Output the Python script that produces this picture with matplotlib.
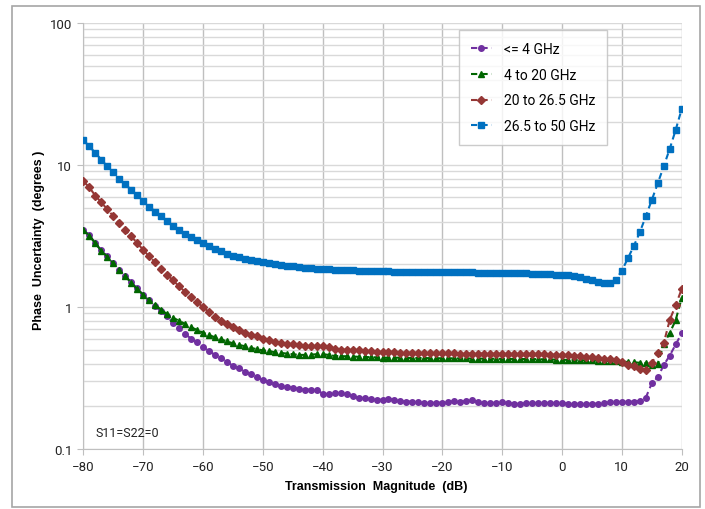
import numpy as np
import matplotlib.pyplot as plt
from matplotlib.patches import Rectangle
from matplotlib.ticker import FixedLocator, LogLocator, NullFormatter, FuncFormatter

DPI = 100

# Transmission magnitude, 1 dB steps.
magnitude = list(range(-80, 21))

# Phase uncertainty (degrees).
phase_4ghz = [
    3.50, 3.20, 2.83, 2.50, 2.27, 2.04, 1.83, 1.66, 1.49, 1.35,
    1.22, 1.12, 1.02, 0.93, 0.86, 0.77, 0.71, 0.645, 0.60, 0.565,
    0.52, 0.49, 0.46, 0.435, 0.41,
    0.386, 0.37, 0.35, 0.335, 0.32, 0.305, 0.295, 0.287, 0.28, 0.275,
    0.27, 0.265, 0.262, 0.262, 0.262, 0.245, 0.243, 0.248, 0.248, 0.243,
    0.235, 0.23, 0.227, 0.224, 0.223, 0.222,
    0.224, 0.223, 0.218, 0.216, 0.216, 0.213, 0.21, 0.21, 0.212, 0.212,
    0.214, 0.218, 0.215, 0.218, 0.22, 0.213, 0.21, 0.21, 0.212, 0.213,
    0.21, 0.209, 0.209, 0.21, 0.21, 0.211, 0.211, 0.211, 0.21, 0.21,
    0.209, 0.208, 0.208, 0.208, 0.208, 0.209, 0.211, 0.213, 0.214, 0.215,
    0.215, 0.216, 0.218, 0.23, 0.29, 0.32, 0.39, 0.455, 0.545, 0.653,
]
phase_20ghz = [
    3.48, 3.18, 2.81, 2.49, 2.26, 2.03, 1.82, 1.65, 1.48, 1.34,
    1.22, 1.12, 1.03, 0.96, 0.89, 0.84, 0.80, 0.76, 0.72, 0.69,
    0.66, 0.635, 0.612, 0.592, 0.573,
    0.555, 0.54, 0.53, 0.515, 0.505, 0.495, 0.49, 0.48, 0.475, 0.47,
    0.465, 0.46, 0.46, 0.462, 0.465, 0.465, 0.46, 0.452, 0.45, 0.45,
    0.448, 0.446, 0.445, 0.443, 0.442, 0.44,
    0.44, 0.44, 0.439, 0.438, 0.438, 0.437, 0.437, 0.436, 0.436, 0.435,
    0.435, 0.435, 0.434, 0.434, 0.433, 0.433, 0.433, 0.432, 0.432, 0.431,
    0.431, 0.431, 0.43, 0.43, 0.43, 0.429, 0.428, 0.427, 0.426, 0.425,
    0.424, 0.423, 0.422, 0.421, 0.42, 0.419, 0.418, 0.416, 0.414, 0.412,
    0.41, 0.408, 0.405, 0.403, 0.39, 0.40, 0.55, 0.656, 0.81, 1.16,
]
phase_26ghz = [
    7.68, 6.97, 6.08, 5.46, 4.88, 4.37, 3.88, 3.48, 3.15, 2.82,
    2.53, 2.27, 2.07, 1.86, 1.69, 1.54, 1.40, 1.28, 1.18, 1.08,
    1.00, 0.92, 0.855, 0.80, 0.755,
    0.72, 0.69, 0.66, 0.64, 0.62, 0.60, 0.585, 0.57, 0.56, 0.55,
    0.545, 0.54, 0.535, 0.53, 0.53, 0.53, 0.52, 0.51, 0.50, 0.50,
    0.50, 0.495, 0.49, 0.49, 0.485, 0.485,
    0.48, 0.48, 0.478, 0.478, 0.475, 0.475, 0.475, 0.473, 0.473, 0.472,
    0.472, 0.472, 0.47, 0.47, 0.47, 0.47, 0.47, 0.468, 0.468, 0.467,
    0.467, 0.466, 0.466, 0.465, 0.465, 0.464, 0.463, 0.462, 0.461, 0.46,
    0.458, 0.455, 0.452, 0.448, 0.445, 0.44, 0.433, 0.427, 0.42, 0.408,
    0.392, 0.382, 0.366, 0.362, 0.403, 0.475, 0.557, 0.81, 1.03, 1.34,
]
phase_50ghz = [
    15.0, 13.5, 12.2, 10.9, 9.8, 8.9, 8.0, 7.3, 6.7, 6.1,
    5.6, 5.1, 4.7, 4.35, 4.03, 3.74, 3.50, 3.28, 3.10, 2.95,
    2.81, 2.68, 2.56, 2.47, 2.37,
    2.30, 2.24, 2.19, 2.14, 2.10, 2.06, 2.03, 2.00, 1.97, 1.95,
    1.93, 1.91, 1.89, 1.88, 1.86, 1.85, 1.84, 1.83, 1.82, 1.81,
    1.81, 1.80, 1.79, 1.79, 1.78, 1.78,
    1.78, 1.77, 1.77, 1.77, 1.76, 1.76, 1.76, 1.76, 1.75, 1.75,
    1.75, 1.75, 1.75, 1.75, 1.75, 1.74, 1.74, 1.74, 1.74, 1.74,
    1.73, 1.73, 1.73, 1.73, 1.72, 1.72, 1.71, 1.70, 1.69, 1.68,
    1.67, 1.65, 1.62, 1.58, 1.54, 1.50, 1.47, 1.48, 1.56, 1.80,
    2.20, 2.69, 3.36, 4.35, 5.67, 7.43, 9.8, 13.0, 17.7, 24.8,
]

labels = ['<= 4 GHz', '4 to 20 GHz', '20 to 26.5 GHz', '26.5 to 50 GHz']
series = [phase_4ghz, phase_20ghz, phase_26ghz, phase_50ghz]
colors = ['#7030a0', '#006600', '#953735', '#0070c0']
markers = ['o', '^', 'D', 's']
msizes = [4.0, 4.6, 3.6, 4.6]

plt.rcParams['font.family'] = ['Roboto', 'DejaVu Sans']

fig = plt.figure(figsize=(705/DPI, 510/DPI), dpi=DPI)
# outer frame around the whole chart
fig.patches.append(Rectangle((12/705, 2/510), 688/705, 501/510, transform=fig.transFigure,
                             fill=False, edgecolor='#a6a6a6', linewidth=1.2))

ax = fig.add_axes([83.3/705, 60/510, 598.4/705, 426/510])

for vals, lab, c, m, ms in zip(series, labels, colors, markers, msizes):
    ax.plot(magnitude, vals, color=c, marker=m, markersize=ms, linewidth=1.5,
            dashes=(3, 2), markeredgecolor=c, label=lab, zorder=3)

ax.set_yscale('log')
ax.set_xlim(-80, 20)
ax.set_ylim(0.1, 100)
ax.xaxis.set_major_locator(FixedLocator(range(-80, 21, 10)))
ax.yaxis.set_major_locator(FixedLocator([0.1, 1, 10, 100]))
ax.yaxis.set_major_formatter(FuncFormatter(lambda v, p: '%g' % v))
ax.yaxis.set_minor_locator(LogLocator(base=10, subs=np.arange(2, 10)))
ax.yaxis.set_minor_formatter(NullFormatter())

ax.grid(True, axis='x', which='major', color='#bfbfbf', linewidth=1.0, zorder=0)
ax.grid(True, axis='y', which='both', color='#d9d9d9', linewidth=1.0, zorder=0)
ax.set_axisbelow(True)

for side in ['top', 'right']:
    ax.spines[side].set_visible(False)
for side in ['left', 'bottom']:
    ax.spines[side].set_color('#bfbfbf')
ax.tick_params(axis='both', which='major', length=4, color='#bfbfbf', labelsize=9.5,
               labelcolor='#222222', pad=4)
ax.tick_params(axis='y', which='minor', length=0)

fig.text(376/705, 1 - 487/510, 'Transmission  Magnitude  (dB)', ha='center', va='center',
         fontsize=9, fontweight='bold', family=['Liberation Sans', 'DejaVu Sans'])
fig.text(39/705, 1 - 240/510, 'Phase  Uncertainty  (degrees )', ha='center', va='center',
         rotation=90, fontsize=9, fontweight='bold', family=['Liberation Sans', 'DejaVu Sans'])

ax.text(-78.0, 0.13, 'S11=S22=0', fontsize=9, color='#222222', va='center', ha='left')

leg = ax.legend(loc='upper left', bbox_to_anchor=((459 - 83.3)/598.4, 1 - (31 - 24)/426),
                fontsize=10, frameon=True, fancybox=False, handlelength=1.5,
                borderpad=0.85, labelspacing=0.85, handletextpad=0.9, borderaxespad=0)
leg.get_frame().set_edgecolor('#bfbfbf')
leg.get_frame().set_linewidth(1.0)

plt.savefig('out.png', dpi=DPI)
